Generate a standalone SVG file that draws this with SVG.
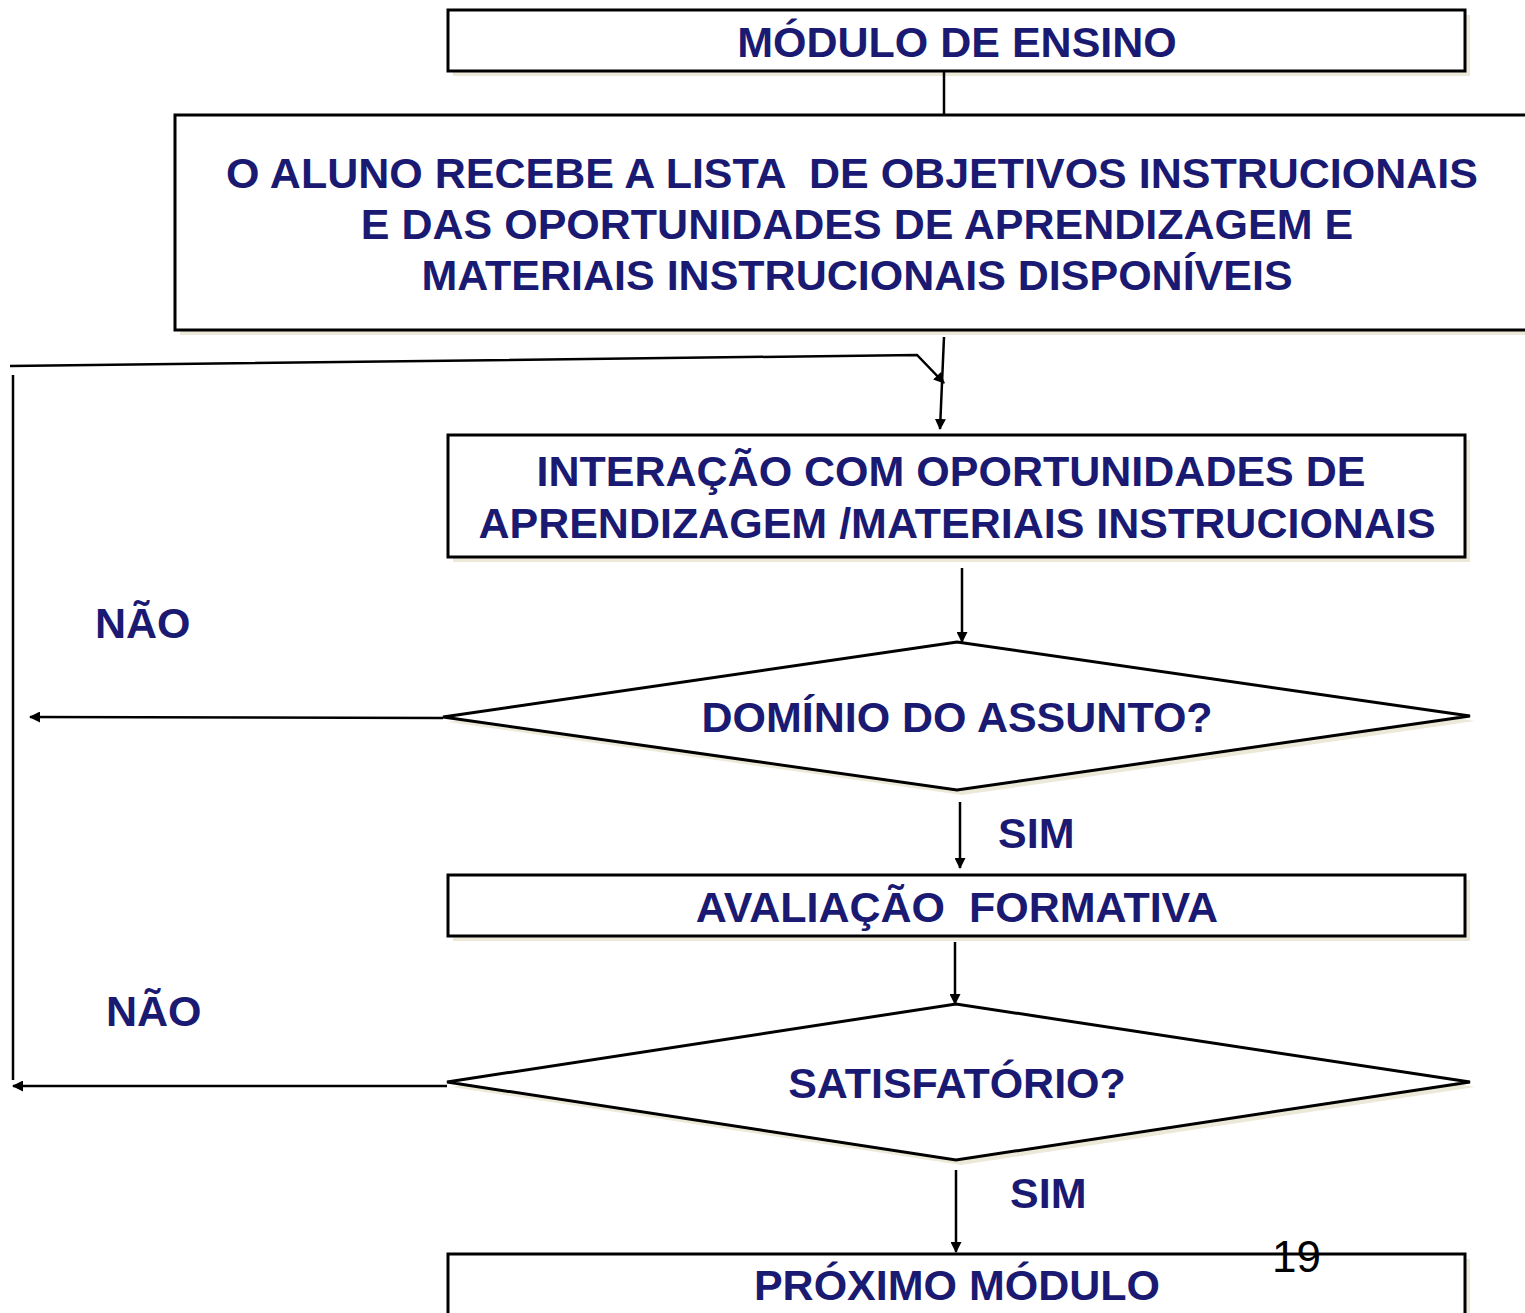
<svg xmlns="http://www.w3.org/2000/svg" width="1525" height="1313" viewBox="0 0 1525 1313">
<style>
.box{fill:#fff;stroke:#000;stroke-width:3}
.sh{fill:#ECE9D8}
.t{font-family:"Liberation Sans",Arial,sans-serif;font-weight:bold;font-size:43px;fill:#1a1a72;text-anchor:middle;white-space:pre}
.l{font-family:"Liberation Sans",Arial,sans-serif;font-weight:bold;font-size:43px;fill:#1a1a72}
.c{fill:none;stroke:#000;stroke-width:2.5}
</style>
<defs>
<marker id="a" markerWidth="11" markerHeight="11" refX="10" refY="5.5" orient="auto" markerUnits="userSpaceOnUse">
<path d="M0,0 L11,5.5 L0,11 Z" fill="#000"/>
</marker>
</defs>
<rect width="1525" height="1313" fill="#fff"/>
<g id="n1">
<rect class="sh" x="453" y="15" width="1017" height="61"/>
<rect class="box" x="448" y="10" width="1017" height="61"/>
<text class="t" x="957" y="57">MÓDULO DE ENSINO</text>
</g>
<g id="n2">
<rect class="sh" x="180" y="120" width="1350" height="215"/>
<rect class="box" x="175" y="115" width="1360" height="215"/>
<text class="t" x="852" y="188" xml:space="preserve">O ALUNO RECEBE A LISTA  DE OBJETIVOS INSTRUCIONAIS</text>
<text class="t" x="857" y="239">E DAS OPORTUNIDADES DE APRENDIZAGEM E</text>
<text class="t" x="857" y="290">MATERIAIS INSTRUCIONAIS DISPONÍVEIS</text>
</g>
<g id="n3">
<rect class="sh" x="453" y="440" width="1017" height="122"/>
<rect class="box" x="448" y="435" width="1017" height="122"/>
<text class="t" x="951" y="486">INTERAÇÃO COM OPORTUNIDADES DE</text>
<text class="t" x="957" y="538">APRENDIZAGEM /MATERIAIS INSTRUCIONAIS</text>
</g>
<g id="d1">
<polygon class="sh" points="448,722 962,647 1475,721 962,795"/>
<polygon class="box" points="443,717 957,642 1470,716 957,790"/>
<text class="t" x="957" y="732">DOMÍNIO DO ASSUNTO?</text>
</g>
<g id="n4">
<rect class="sh" x="453" y="880" width="1017" height="61"/>
<rect class="box" x="448" y="875" width="1017" height="61"/>
<text class="t" x="957" y="922" xml:space="preserve">AVALIAÇÃO  FORMATIVA</text>
</g>
<g id="d2">
<polygon class="sh" points="452,1087 961,1009 1475,1087 961,1165"/>
<polygon class="box" points="447,1082 956,1004 1470,1082 956,1160"/>
<text class="t" x="957" y="1098">SATISFATÓRIO?</text>
</g>
<g id="n5">
<rect class="sh" x="453" y="1259" width="1017" height="60"/>
<rect class="box" x="448" y="1254" width="1017" height="70"/>
<text class="t" x="957" y="1300">PRÓXIMO MÓDULO</text>
</g>
<g id="connectors">
<line class="c" x1="944" y1="71" x2="944" y2="115"/>
<line class="c" x1="944" y1="337" x2="940" y2="429" marker-end="url(#a)"/>
<polyline class="c" points="10,366 917,355 944,383" marker-end="url(#a)"/>
<line class="c" x1="13" y1="375" x2="13" y2="1080"/>
<line class="c" x1="962" y1="568" x2="962" y2="642" marker-end="url(#a)"/>
<line class="c" x1="443" y1="718" x2="30" y2="717" marker-end="url(#a)"/>
<line class="c" x1="960" y1="802" x2="960" y2="868" marker-end="url(#a)"/>
<line class="c" x1="955" y1="942" x2="955" y2="1004" marker-end="url(#a)"/>
<line class="c" x1="447" y1="1086" x2="13" y2="1086" marker-end="url(#a)"/>
<line class="c" x1="956" y1="1170" x2="956" y2="1252" marker-end="url(#a)"/>
</g>
<g id="labels">
<text class="l" x="95" y="638">NÃO</text>
<text class="l" x="998" y="848">SIM</text>
<text class="l" x="106" y="1026">NÃO</text>
<text class="l" x="1010" y="1208">SIM</text>
<text x="1272" y="1272" font-family="Liberation Sans,Arial,sans-serif" font-size="44" fill="#000">19</text>
</g>
</svg>
